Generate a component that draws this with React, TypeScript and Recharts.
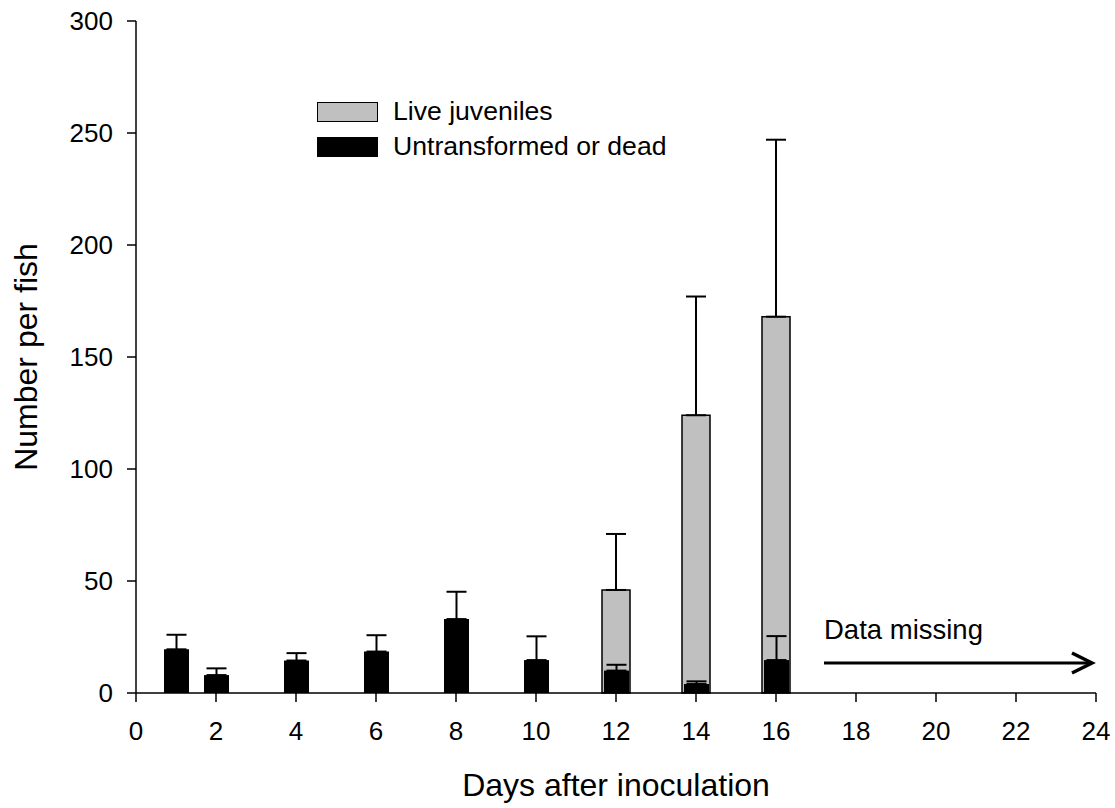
import {
  ComposedChart, Bar, ErrorBar, XAxis, YAxis, Legend, ReferenceLine,
} from 'recharts';

// values
const days = [1, 2, 4, 6, 8, 10, 12, 14, 16];
const deadMean = [19.5, 8, 14.5, 18.5, 33, 14.7, 10, 4, 14.7];
const deadErr = [6.5, 3, 3.3, 7.3, 12.2, 10.6, 2.6, 1.2, 10.7];
const liveMean = [null, null, null, null, null, null, 46, 124, 168];
const liveErr = [null, null, null, null, null, null, 25, 53, 79];

const xTicks = [0, 2, 4, 6, 8, 10, 12, 14, 16, 18, 20, 22, 24];
const yTicks = [0, 50, 100, 150, 200, 250, 300];

const data = days.map((d, i) => ({
  day: d,
  dead: deadMean[i],
  deadErr: [0, deadErr[i]],
  live: liveMean[i],
  liveErr: liveErr[i] == null ? null : [0, liveErr[i]],
}));

const FONT = 'Arial, "Liberation Sans", sans-serif';

const renderLegend = (props: any) => {
  const items = props.payload || [];
  return (
    <div style={{ fontFamily: FONT, fontSize: 26.6, color: '#000' }}>
      {items.map((it: any) => (
        <div key={it.value} style={{ display: 'flex', alignItems: 'center', height: 35 }}>
          <span style={{
            display: 'inline-block', width: 61, height: 20, boxSizing: 'border-box',
            background: it.color, border: '1px solid #000', marginRight: 15,
          }} />
          <span>{it.value}</span>
        </div>
      ))}
    </div>
  );
};

const ArrowShape = (props: any) => {
  const { x1, y1, x2, y2 } = props;
  return (
    <g>
      <line x1={x1} y1={y1} x2={x2 - 2} y2={y2} stroke="#000" strokeWidth={3} />
      <polyline
        points={`${x2 - 20},${y2 - 10} ${x2},${y2} ${x2 - 20},${y2 + 10}`}
        fill="none" stroke="#000" strokeWidth={3.5} strokeLinejoin="miter"
      />
      <text x={x1} y={y1 - 24} fontSize={27.5} fontFamily={FONT} fill="#000">Data missing</text>
    </g>
  );
};

export default function App() {
  return (
    <div style={{ width: 1115, height: 808, background: '#fff' }}>
      <style>{'body{margin:0}'}</style>
      <ComposedChart
        width={1115}
        height={808}
        data={data}
        margin={{ top: 21, right: 19, bottom: 0, left: 0 }}
        style={{ fontFamily: FONT }}
      >
        <XAxis
          xAxisId="main"
          dataKey="day"
          type="number"
          domain={[0, 24]}
          ticks={xTicks}
          interval={0}
          height={115}
          axisLine={{ stroke: '#000', strokeWidth: 1.5 }}
          tickLine={{ stroke: '#000', strokeWidth: 1.5 }}
          tickSize={9}
          tickMargin={20}
          tick={{ fill: '#000', fontSize: 26 }}
          label={{ value: 'Days after inoculation', position: 'insideBottom', offset: 12, fill: '#000', fontSize: 32 }}
        />
        <XAxis xAxisId="front" dataKey="day" type="number" domain={[0, 24]} height={0} hide />
        <YAxis
          domain={[0, 300]}
          ticks={yTicks}
          interval={0}
          width={136}
          axisLine={{ stroke: '#000', strokeWidth: 1.5 }}
          tickLine={{ stroke: '#000', strokeWidth: 1.5 }}
          tickSize={9}
          tickMargin={14}
          tick={{ fill: '#000', fontSize: 26 }}
          label={{
            value: 'Number per fish', angle: -90, position: 'insideLeft', offset: 26,
            fill: '#000', fontSize: 32, style: { textAnchor: 'middle' },
          }}
        />
        <Legend
          layout="vertical"
          align="center"
          verticalAlign="middle"
          content={renderLegend}
          wrapperStyle={{ top: 94, left: 317, width: 420 }}
        />
        <Bar
          xAxisId="main"
          dataKey="live"
          name="Live juveniles"
          fill="#C0C0C0"
          stroke="#000"
          strokeWidth={1.5}
          barSize={28}
          isAnimationActive={false}
        >
          <ErrorBar dataKey="liveErr" width={10} stroke="#000" strokeWidth={2} direction="y" />
        </Bar>
        <Bar
          xAxisId="front"
          dataKey="dead"
          name="Untransformed or dead"
          fill="#000"
          barSize={25}
          isAnimationActive={false}
        >
          <ErrorBar dataKey="deadErr" width={10} stroke="#000" strokeWidth={2} direction="y" />
        </Bar>
        <ReferenceLine
          xAxisId="main"
          segment={[{ x: 17.2, y: 13.4 }, { x: 23.9, y: 13.4 }]}
          shape={ArrowShape}
          ifOverflow="visible"
        />
      </ComposedChart>
    </div>
  );
}
